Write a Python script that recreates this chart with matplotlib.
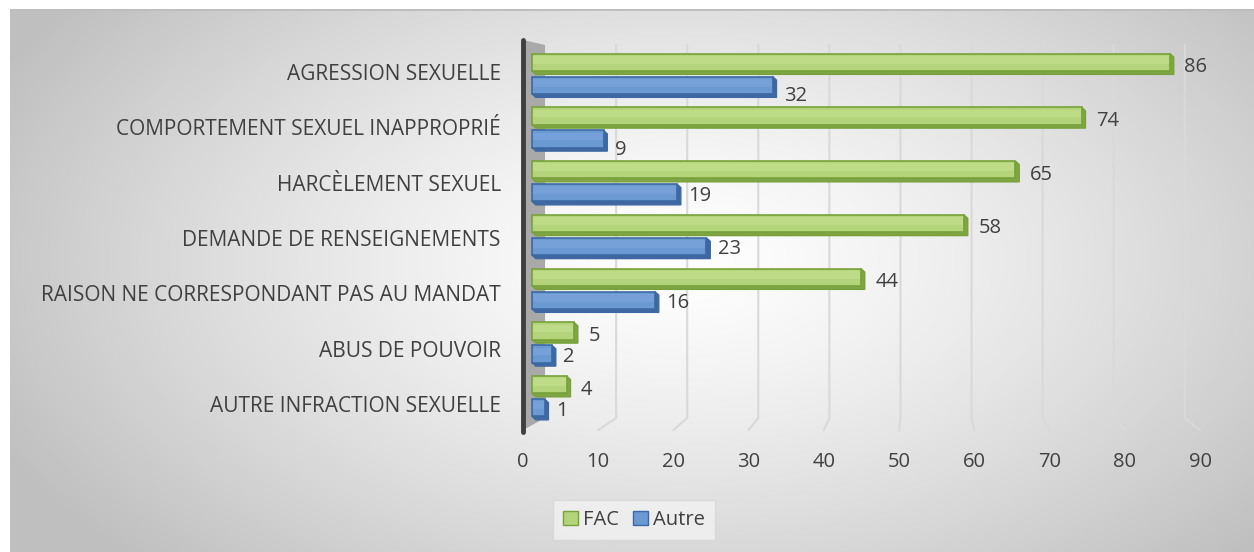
import numpy as np
import matplotlib
matplotlib.use('Agg')
import matplotlib.pyplot as plt
from matplotlib.patches import Polygon, Rectangle, Patch

plt.rcParams['font.family'] = ['Open Sans', 'DejaVu Sans']

# data
categories = ['AGRESSION SEXUELLE', 'COMPORTEMENT SEXUEL INAPPROPRIÉ', 'HARCÈLEMENT SEXUEL',
              'DEMANDE DE RENSEIGNEMENTS', 'RAISON NE CORRESPONDANT PAS AU MANDAT',
              'ABUS DE POUVOIR', 'AUTRE INFRACTION SEXUELLE']
fac = [86, 74, 65, 58, 44, 5, 4]
autre = [32, 9, 19, 23, 16, 2, 1]
xticks = list(range(0, 100, 10))

W, H = 1254, 552
fig = plt.figure(figsize=(W / 100, H / 100), dpi=100)

# gradient background
bg = fig.add_axes([10 / W, 0, (W - 10) / W, (H - 9) / H])
yy, xx = np.mgrid[0:543, 0:1244]
r = np.sqrt(((xx - 670) / 760.0) ** 2 + ((yy - 250) / 430.0) ** 2)
val = 1 - 0.25 * np.clip(r, 0, 1) ** 1.3
bg.imshow(np.dstack([val, val, val]), aspect='auto', extent=[0, 1, 0, 1])
bg.plot([0, 1], [1, 1], color='#bdbdbd', lw=2)
bg.set_xlim(0, 1)
bg.set_ylim(0, 1)
bg.axis('off')

# main axes (front scale: 0..90), y in bar-row units
top_px, bot_px = 40, 430
ax = fig.add_axes([523 / W, (H - bot_px) / H, 677 / W, (bot_px - top_px) / H])
ax.patch.set_alpha(0)
row0, rowh = 75.5, 53.75
ytop = (top_px - row0) / rowh
ybot = (bot_px - row0) / rowh
ax.set_xlim(0, 90)
ax.set_ylim(ybot, ytop)

def xback(v):
    return 2.93 + 0.945 * v

back_top = (45 - row0) / rowh
back_floor = (418 - row0) / rowh

# gridlines in perspective
for v in xticks[1:]:
    ax.plot([xback(v), xback(v), v], [back_top, back_floor, ybot],
            color='#d9d9d9', lw=1.5, zorder=1, clip_on=False)

# side wall + axis line
ax.add_patch(Polygon([(0, ytop), (xback(0), back_top), (xback(0), back_floor), (0, ybot)],
                     closed=True, facecolor='#a9a9a9', edgecolor='none', zorder=2))
ax.plot([0, 0], [ytop, ybot + 0.03], color='#3f3f3f', lw=3.5, zorder=6,
        solid_capstyle='round', clip_on=False)

def bar_end(v):
    return 1.9 + 0.978 * v

h = 0.32
dx, dy = 0.5, 0.065
styles = {
    'FAC': dict(face='#b3d47a', light='#bedc88', edge='#77a23a', depth='#80a446'),
    'Autre': dict(face='#6b99d2', light='#75a1d8', edge='#3c69a5', depth='#41679f'),
}

def draw_bar(yc, v, st):
    x0, x1 = 1.2, bar_end(v)
    y0, y1 = yc - h / 2 - dy / 2, yc + h / 2 - dy / 2
    # extruded depth
    ax.add_patch(Polygon([(x0, y1), (x0 + dx, y1 + dy), (x1 + dx, y1 + dy), (x1 + dx, y0 + dy),
                          (x1, y0), (x1, y1)], closed=True,
                         facecolor=st['depth'], edgecolor=st['edge'], lw=1, zorder=3))
    ax.add_patch(Rectangle((x0, y0), x1 - x0, h, facecolor=st['face'],
                           edgecolor=st['edge'], lw=1.2, zorder=4))
    ax.add_patch(Rectangle((x0 + 0.15, y0 + 0.04), max(x1 - x0 - 0.3, 0.2), h * 0.45,
                           facecolor=st['light'], edgecolor='none', zorder=5))

for i in range(len(categories)):
    yg = i - 11.5 / rowh
    yb = i + 11.5 / rowh
    draw_bar(yg, fac[i], styles['FAC'])
    draw_bar(yb, autre[i], styles['Autre'])
    ax.text(bar_end(fac[i]) + 1.9, yg + 0.06, str(fac[i]), ha='left', va='center',
            fontsize=14.5, color='#404040', zorder=7)
    # labels under a long FAC bar near the top sit a bit lower
    off = 0.17 if i < 2 else 0.02
    ax.text(bar_end(autre[i]) + 1.5, yb + off, str(autre[i]), ha='left', va='center',
            fontsize=14.5, color='#404040', zorder=7)

ax.set_xticks(xticks)
# category labels follow a slightly wider spacing than the bars
ax.set_yticks([(72 + 55.3 * i - row0) / rowh for i in range(len(categories))])
ax.set_yticklabels(categories)
ax.tick_params(axis='x', length=0, pad=16, labelsize=14.5, labelcolor='#404040')
ax.tick_params(axis='y', length=0, pad=16, labelsize=15, labelcolor='#404040')
for s in ax.spines.values():
    s.set_visible(False)

handles = [Patch(facecolor='#b3d47a', edgecolor='#77a23a', label='FAC'),
           Patch(facecolor='#6b99d2', edgecolor='#3c69a5', label='Autre')]
leg = fig.legend(handles=handles, loc='center', bbox_to_anchor=(634 / W, (H - 520) / H),
                 ncol=2, frameon=True, fontsize=14.5, handlelength=0.75, handleheight=0.75,
                 handletextpad=0.25, columnspacing=0.7, borderpad=0.5, borderaxespad=0,
                 fancybox=False)
leg.get_frame().set_facecolor('#f2f2f2')
leg.get_frame().set_edgecolor('#d6d6d6')
for t in leg.get_texts():
    t.set_color('#404040')

fig.savefig('out.png', dpi=100)
